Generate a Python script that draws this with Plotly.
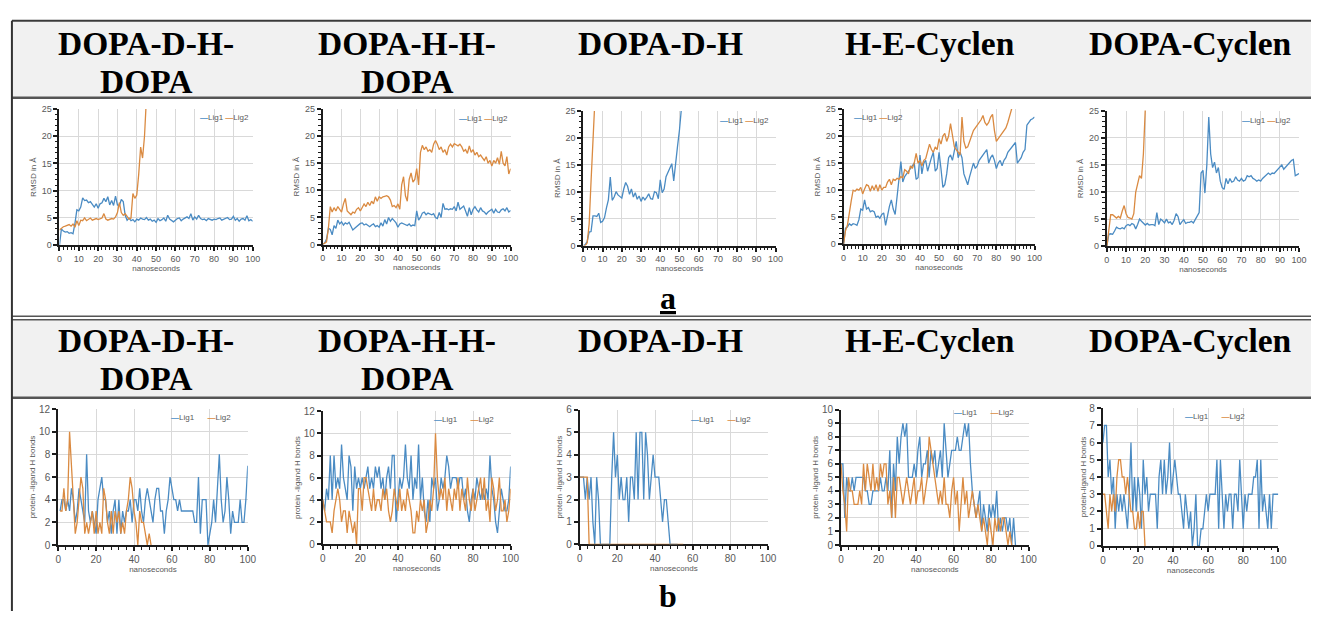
import plotly.graph_objects as go

W, H = 1320, 617

# ---------------- data ----------------
time_ns = list(range(0, 101))

compound_titles = [["DOPA-D-H-", "DOPA"], ["DOPA-H-H-", "DOPA"], ["DOPA-D-H"], ["H-E-Cyclen"], ["DOPA-Cyclen"]]
series_names = ["Lig1", "Lig2"]
rmsd_ytitle = "RMSD in Å"
hb_ytitles = ["protein -ligand H bonds", "protein -ligand H bonds", "protein -ligand H bonds",
              "protein -ligand H bonds", "protein-ligand H bonds"]
x_title = "nanoseconds"
panel_labels = ["a", "b"]

# ---- row a : RMSD (Å) ----
rmsd_dhd_lig1 = [0, 3.0, 2.6, 2.4, 2.5, 2.2, 2.3, 2.1, 4.0, 6.5, 6.3, 7.0, 8.7, 8.2, 8.3, 7.8, 8.0, 7.4, 7.0, 7.6,
                 6.8, 7.6, 7.8, 8.6, 8.0, 8.9, 7.4, 8.2, 7.3, 9.0, 7.4, 7.3, 8.4, 8.0, 5.5, 4.6, 5.0, 4.5, 4.7, 4.3,
                 4.8, 4.6, 5.0, 4.8, 4.7, 5.1, 4.6, 4.8, 4.4, 4.6, 4.2, 4.9, 4.5, 4.7, 5.0, 4.4, 5.5, 4.8, 4.5, 4.3,
                 4.6, 4.9, 5.0, 4.5, 4.8, 5.0, 5.2, 4.9, 5.8, 4.6, 5.2, 4.8, 5.5, 4.9, 4.7, 4.8, 4.5, 4.9, 4.7, 4.6,
                 4.8, 4.7, 4.9, 5.0, 4.6, 4.8, 4.9, 5.1, 4.7, 4.8, 5.3, 4.6, 4.9, 4.4, 4.8, 4.9, 4.6, 5.4, 4.5, 4.7, 4.4]
rmsd_dhd_lig2 = [2.8, 3.2, 3.4, 3.5, 3.6, 3.8, 3.5, 3.9, 3.3, 4.5, 3.6, 4.6, 4.5, 5.0, 4.5, 4.7, 5.0, 4.6, 4.8, 4.9,
                 4.7, 4.9, 5.0, 5.8, 4.8, 4.6, 4.7, 4.9, 4.8, 5.2, 6.0, 7.8, 6.0, 5.5, 5.8, 5.4, 4.8, 5.0, 9.5, 8.6,
                 9.2, 13.0, 18.0, 16.0, 20.0, 27.0]

rmsd_hhd_lig1 = [0, 0.3, 1.0, 3.0, 2.8, 1.8, 3.5, 3.0, 4.5, 3.8, 4.2, 3.6, 4.0, 3.8, 4.1, 3.5, 2.7, 3.0, 3.3, 3.6,
                 3.9, 4.0, 3.6, 3.8, 3.5, 3.3, 3.6, 3.8, 3.3, 3.5, 3.2, 4.0, 3.4, 4.6, 3.8, 5.0, 4.3, 4.8, 4.4, 4.0,
                 3.2, 3.8, 4.0, 3.8, 3.6, 3.5, 3.8, 3.4, 3.6, 3.5, 6.2, 4.5, 5.0, 5.8, 6.0, 5.5, 5.8, 5.6, 5.5, 5.7,
                 5.0, 4.8, 5.9, 5.0, 7.6, 6.5, 6.6, 6.4, 6.6, 6.5, 7.0, 6.2, 7.8, 6.5, 6.8, 7.1, 6.2, 5.2, 6.8, 5.5,
                 6.5, 7.0, 6.4, 6.0, 6.8, 6.2, 6.0, 5.6, 6.0, 6.3, 6.5, 5.8, 6.5, 6.0, 5.9, 6.4, 6.6, 6.2, 6.8, 6.0, 6.3]
rmsd_hhd_lig2 = [0, 0.2, 0.5, 3.0, 7.0, 6.0, 6.8, 6.2, 7.0, 6.5, 6.0, 7.5, 8.5, 6.2, 5.8, 5.5, 6.0, 5.8, 6.5, 6.8,
                 6.2, 7.0, 7.5, 7.0, 7.8, 7.2, 8.0, 7.5, 8.8, 8.0, 8.8, 8.5, 8.8, 8.9, 9.0, 8.8, 8.2, 7.0, 7.2, 6.8,
                 7.5, 6.5, 11.0, 12.5, 9.0, 8.0, 12.0, 13.2, 11.5, 12.0, 14.0, 11.0, 17.0, 18.3, 17.5, 18.0, 17.2,
                 17.5, 17.0, 18.5, 19.2, 18.5, 17.5, 18.0, 17.0, 17.5, 16.5, 18.0, 18.5, 18.0, 18.6, 18.4, 18.2, 18.5,
                 18.0, 17.2, 17.5, 16.8, 18.2, 17.0, 17.5, 16.5, 17.0, 16.2, 16.5, 16.0, 15.5, 16.2, 15.0, 15.5, 14.5,
                 15.5, 15.0, 16.0, 14.8, 17.2, 15.0, 14.5, 16.2, 13.0, 14.0]

rmsd_dh_lig1 = [0, 0.2, 0.8, 2.5, 2.6, 5.5, 5.5, 5.4, 6.0, 4.3, 4.5, 5.2, 7.0, 8.5, 12.7, 8.4, 9.0, 10.0, 9.4, 9.0,
                8.8, 10.5, 11.7, 11.0, 9.5, 10.5, 9.0, 9.8, 8.6, 9.2, 8.2, 9.0, 8.5, 9.0, 9.6, 8.7, 8.6, 10.0, 9.8,
                8.7, 12.2, 9.8, 10.5, 12.8, 13.5, 14.2, 15.2, 12.0, 16.0, 18.5, 21.5, 25.5]
rmsd_dh_lig2 = [0, 0, 0.5, 4.0, 12.0, 20.0, 27.0]

rmsd_hec_lig1 = [0, 3.0, 3.2, 3.8, 3.5, 3.8, 3.7, 3.5, 4.5, 6.5, 6.3, 8.2, 6.5, 6.8, 6.0, 6.2, 6.0, 5.0, 5.2, 4.8,
                 5.5, 5.8, 3.5, 5.5, 7.0, 8.2, 6.5, 5.5, 9.0, 12.0, 15.3, 11.5, 12.5, 13.0, 13.5, 14.0, 14.5, 15.0,
                 12.0, 12.3, 16.5, 13.0, 15.0, 15.5, 13.5, 15.0, 16.0, 17.0, 13.5, 14.0, 17.0, 14.0, 10.5, 11.0, 13.0,
                 16.0, 16.5, 15.5, 17.0, 19.0, 16.0, 17.0, 16.0, 13.0, 12.0, 11.0, 12.5, 14.0, 15.0, 14.0, 14.5, 15.5,
                 16.0, 16.5, 17.0, 17.5, 15.0, 16.0, 16.5, 15.5, 14.0, 15.0, 15.5, 14.5, 15.5, 16.0, 17.0, 17.5, 18.0,
                 18.5, 18.8, 15.0, 15.5, 16.0, 17.0, 17.5, 22.0, 22.5, 23.0, 23.2, 23.5]
rmsd_hec_lig2 = [0, 2.5, 3.5, 6.0, 8.0, 10.0, 9.8, 10.2, 10.0, 10.5, 9.3, 10.2, 11.0, 10.8, 9.8, 10.8, 10.0, 11.0,
                 9.8, 11.0, 10.0, 10.5, 10.5, 11.5, 12.0, 11.0, 12.0, 11.8, 12.2, 12.0, 12.5, 12.3, 13.8, 13.5, 13.0,
                 14.5, 14.0, 15.0, 16.8, 15.0, 15.5, 14.5, 15.5, 15.8, 17.0, 18.5, 17.5, 17.0, 18.0, 17.5, 19.5, 18.5,
                 20.0, 20.5, 19.0, 20.0, 22.3, 20.0, 18.0, 17.5, 17.0, 16.5, 23.5, 19.0, 17.8, 18.0, 19.0, 20.0, 21.0,
                 21.5, 22.0, 22.5, 23.0, 23.8, 22.5, 22.0, 22.5, 23.5, 24.0, 21.0, 19.0, 19.5, 20.0, 20.5, 21.0, 21.5,
                 22.5, 24.0, 25.0, 26.0]

rmsd_dc_lig1 = [0, 2.2, 2.3, 2.2, 2.8, 3.5, 3.3, 3.2, 3.4, 3.2, 3.8, 4.0, 3.8, 4.2, 4.0, 3.2, 4.0, 5.0, 4.6, 4.3,
                3.9, 4.2, 3.9, 4.0, 4.0, 3.8, 6.2, 4.0, 5.0, 4.7, 4.3, 5.0, 4.3, 4.5, 4.0, 4.8, 6.0, 5.5, 4.0, 4.5,
                4.9, 4.2, 4.4, 4.4, 4.6, 4.3, 5.0, 5.5, 6.2, 13.5, 14.0, 9.8, 15.0, 23.8, 17.0, 14.5, 15.5, 13.5, 14.5,
                12.0, 10.8, 10.5, 12.5, 11.5, 12.5, 11.8, 12.0, 12.8, 12.2, 12.0, 12.5, 12.0, 12.2, 13.0, 12.8, 13.0,
                12.5, 12.3, 12.0, 12.2, 12.0, 12.5, 12.8, 13.2, 13.5, 13.2, 13.5, 13.4, 13.8, 14.0, 14.5, 15.0, 14.2,
                14.6, 15.0, 15.5, 15.8, 16.0, 13.0, 13.2, 13.4]
rmsd_dc_lig2 = [0, 3.0, 5.8, 5.8, 5.4, 5.2, 5.5, 5.2, 6.5, 7.5, 6.0, 5.3, 5.2, 5.0, 6.0, 10.0, 11.5, 13.0, 12.5,
                17.0, 25.5]

# ---- row b : protein-ligand H bonds ----
hb_dhd_lig1 = [3, 4, 4, 3, 4, 3, 5, 4, 2, 3, 5, 4, 3, 2, 8, 3, 2, 3, 2, 1, 4, 5, 6, 4, 4, 2, 3, 1, 3, 4, 1, 4, 1,
               3, 2, 3, 3, 4, 2, 4, 4, 3, 5, 3, 2, 4, 5, 4, 3, 2, 4, 5, 5, 3, 3, 1, 3, 4, 6, 5, 4, 4, 3, 4, 3, 3,
               3, 3, 3, 3, 3, 2, 2, 6, 1, 4, 4, 4, 0, 1, 2, 4, 2, 5, 8, 4, 2, 3, 6, 4, 1, 3, 2, 2, 2, 4, 2, 2, 4, 7]
hb_dhd_lig2 = [3, 3, 5, 3, 4, 10, 7, 4, 1, 2, 4, 6, 5, 1, 2, 1, 2, 3, 1, 3, 1, 2, 1, 5, 4, 2, 1, 3, 1, 3, 2, 3, 1,
               2, 1, 3, 4, 6, 5, 3, 2, 0, 3, 2, 2, 1, 0, 1, 0]

hb_hhd_lig1 = [4, 3, 5, 4, 8, 4, 8, 5, 6, 5, 9, 6, 5, 4, 8, 7, 3, 7, 5, 6, 5, 6, 5, 6, 7, 5, 6, 5, 7, 6, 7, 5, 6,
               4, 6, 7, 5, 8, 8, 2, 4, 6, 5, 6, 9, 6, 5, 8, 4, 6, 5, 9, 4, 6, 3, 2, 4, 2, 6, 5, 6, 3, 4, 6, 5, 6,
               8, 7, 5, 6, 6, 6, 5, 6, 6, 4, 5, 3, 2, 4, 5, 4, 6, 5, 4, 5, 4, 5, 4, 8, 5, 4, 2, 1, 3, 5, 4, 3, 3, 4, 7]
hb_hhd_lig2 = [4, 3, 2, 2, 2, 1, 3, 4, 5, 4, 2, 3, 3, 1, 3, 2, 1, 2, 0, 5, 5, 3, 6, 6, 5, 4, 3, 5, 3, 4, 4, 3, 5,
               4, 5, 3, 2, 3, 5, 4, 3, 5, 3, 4, 3, 5, 4, 3, 1, 1, 3, 2, 4, 3, 4, 1, 2, 4, 3, 5, 10, 6, 4, 5, 4, 6,
               3, 5, 4, 3, 5, 4, 6, 3, 5, 4, 3, 6, 4, 3, 5, 3, 4, 5, 6, 4, 6, 3, 4, 2, 6, 5, 3, 4, 6, 3, 3, 4, 2, 3, 5]

hb_dh_lig1 = [3, 3, 3, 2, 3, 2, 3, 1, 0, 3, 2, 0, 0, 0, 0, 0, 0, 3, 5, 3, 4, 2, 3, 2, 2, 3, 1, 3, 3, 2, 5, 2, 5,
              5, 2, 5, 4, 2, 3, 4, 3, 3, 3, 2, 1, 2, 2, 1, 0, 0, 0, 0, 0]
hb_dh_lig2 = [3, 3, 3, 3, 3, 0, 0, 0, 0, 0, 0, 0, 0, 0, 0, 0, 0, 0, 0, 0, 0, 0, 0, 0, 0, 0, 0, 0, 0, 0, 0, 0, 0,
              0, 0, 0, 0, 0, 0, 0, 0, 0, 0, 0, 0, 0, 0, 0, 0, 0, 0, 0, 0, 0, 0, 0]

hb_hec_lig1 = [6, 6, 2, 5, 4, 4, 5, 4, 5, 5, 5, 5, 5, 4, 4, 3, 3, 4, 4, 4, 4, 5, 4, 4, 5, 4, 7, 2, 6, 4, 8, 6, 8,
               9, 8, 9, 5, 5, 5, 6, 5, 7, 8, 5, 6, 6, 7, 5, 7, 6, 7, 5, 6, 7, 5, 9, 7, 5, 6, 7, 7, 7, 8, 7, 7, 8,
               9, 8, 9, 6, 4, 3, 2, 3, 4, 1, 3, 2, 1, 3, 2, 3, 2, 4, 1, 2, 1, 2, 2, 1, 2, 0, 2, 0]
hb_hec_lig2 = [6, 4, 3, 1, 5, 4, 4, 3, 3, 3, 4, 3, 6, 4, 6, 5, 4, 6, 4, 5, 4, 6, 5, 6, 6, 3, 4, 2, 5, 2, 5, 5, 4,
               3, 4, 5, 4, 3, 4, 5, 3, 4, 4, 5, 3, 4, 5, 8, 7, 6, 5, 4, 3, 4, 3, 5, 3, 3, 2, 4, 5, 3, 4, 1, 3, 5,
               3, 4, 2, 3, 4, 3, 2, 3, 2, 1, 2, 1, 0, 2, 1, 0, 2, 1, 2, 1, 2, 2, 1, 0, 1, 0]

hb_dc_lig1 = [6, 7, 7, 4, 5, 3, 4, 1, 3, 2, 3, 2, 3, 2, 1, 3, 6, 2, 4, 2, 4, 3, 1, 5, 3, 4, 2, 3, 3, 3, 3, 1, 4,
              5, 3, 5, 3, 4, 6, 3, 4, 5, 4, 3, 3, 2, 1, 3, 2, 1, 2, 0, 1, 3, 0, 0, 1, 1, 2, 3, 2, 3, 3, 3, 3, 5,
              1, 5, 3, 1, 3, 2, 3, 3, 1, 3, 3, 2, 5, 3, 1, 3, 2, 3, 3, 3, 4, 4, 5, 1, 5, 2, 3, 2, 1, 3, 1, 3, 3, 3, 3]
hb_dc_lig2 = [3, 3, 2, 1, 3, 2, 3, 2, 4, 5, 5, 4, 4, 3, 4, 3, 2, 2, 1, 1, 2, 1, 2, 2, 0]

rmsd_series = [(rmsd_dhd_lig1, rmsd_dhd_lig2), (rmsd_hhd_lig1, rmsd_hhd_lig2), (rmsd_dh_lig1, rmsd_dh_lig2),
               (rmsd_hec_lig1, rmsd_hec_lig2), (rmsd_dc_lig1, rmsd_dc_lig2)]
hb_series = [(hb_dhd_lig1, hb_dhd_lig2), (hb_hhd_lig1, hb_hhd_lig2), (hb_dh_lig1, hb_dh_lig2),
             (hb_hec_lig1, hb_hec_lig2), (hb_dc_lig1, hb_dc_lig2)]
hb_start = [(1, 1), (0, 0), (0, 0), (0, 0), (0, 0)]
rmsd_max = [25, 25, 25, 25, 25]
hb_max = [12, 12, 6, 10, 8]
hb_step = [2, 2, 1, 1, 1]

# ---------------- style / layout constants ----------------
C1, C2 = "#4a8bc3", "#da8a41"
AXC = "#1c1c1c"
GRIDC = "#d9d9d9"
TXTC = "#595959"
SANS = "Liberation Sans, Arial, sans-serif"
SERIF = "Liberation Serif, Times New Roman, Times, DejaVu Serif, serif"

A_BOX = [(57, 252, 105, 244), (322.7, 512.3, 105, 243.3), (585.7, 779.7, 107, 244.3),
         (848.3, 1041, 105, 243), (1114, 1308, 106.7, 245)]
B_BOX = [(55.7, 247, 411, 549.7), (322.7, 512.3, 413.3, 548.7), (582, 772, 412, 549),
         (845.7, 1035, 411.7, 549.7), (1110, 1287, 410, 550.7)]
A_LEG = [(250, "right", 114), (512, "right", 115), (775, "right", 117), (857, "left", 114), (1302, "right", 117)]
B_LEG = [(232, "right", 420), (498, "right", 422), (757, "right", 422), (1022, "right", 415), (1255, "right", 419)]
TITLE_X = [144, 408, 664, 935, 1198]
TITLE_Y = [(38.5, 76.5), (341.5, 379.5)]


def fx(v):
    return v / W


def fy(v):
    return 1 - v / H


fig = go.Figure()
layout = dict(width=W, height=H, autosize=False, margin=dict(l=0, r=0, t=0, b=0),
              paper_bgcolor="white", plot_bgcolor="white", showlegend=False,
              annotations=[], shapes=[])

# ---- frame and header bands ----
shp = layout["shapes"]
for (y0, y1) in [(16, 92.5), (320.5, 398.5)]:
    shp.append(dict(type="rect", xref="paper", yref="paper", x0=fx(9), x1=1, y0=fy(y1), y1=fy(y0),
                    fillcolor="#f1f1f1", line=dict(width=0), layer="below"))
for (yy, wd, col) in [(15, 2, "#3a3a3a"), (93.5, 2.5, "#555555"), (316.5, 1.5, "#555555"),
                      (320, 1.5, "#555555"), (399.5, 2.5, "#555555")]:
    shp.append(dict(type="line", xref="paper", yref="paper", x0=fx(9), x1=1, y0=fy(yy), y1=fy(yy),
                    line=dict(color=col, width=wd)))
shp.append(dict(type="line", xref="paper", yref="paper", x0=fx(9), x1=fx(9), y0=fy(15), y1=0,
                line=dict(color="#333333", width=2)))

ann = layout["annotations"]

# ---- header titles ----
for c, lines in enumerate(compound_titles):
    for (ys1, ys2) in TITLE_Y:
        for li, t in enumerate(lines):
            ann.append(dict(text="<b>%s</b>" % t, x=fx(TITLE_X[c]), y=fy(ys1 if li == 0 else ys2),
                            xref="paper", yref="paper", xanchor="center", yanchor="middle", showarrow=False,
                            font=dict(family=SERIF, size=33.5, color="black")))

# ---- panel labels ----
for lab, yy in zip(panel_labels, [298, 602]):
    ann.append(dict(text="<b><u>%s</u></b>" % lab if lab == "a" else "<b>%s</b>" % lab,
                    x=fx(671), y=fy(yy), xref="paper", yref="paper",
                    xanchor="center", yanchor="middle", showarrow=False,
                    font=dict(family=SERIF, size=32, color="black")))


def legend_text(gap):
    return ('<span style="color:%s"><b>—</b></span>%s%s<span style="color:%s"><b>—</b></span>%s'
            % (C1, series_names[0], "&nbsp;" * gap, C2, series_names[1]))


k = 0
for row in range(2):
    for c in range(5):
        k += 1
        sx = "" if k == 1 else str(k)
        xa, ya = "x" + sx, "y" + sx
        if row == 0:
            l, r, t, b = A_BOX[c]
            v1, v2 = rmsd_series[c]
            s1, s2 = 0, 0
            ymax, ystep, yminor = rmsd_max[c], 5, 1
            xstep, xminor = 10, 2
            ytitle = rmsd_ytitle
            lx, lanchor, ly = A_LEG[c]
            gap = 1
            tsize = 9
        else:
            l, r, t, b = B_BOX[c]
            v1, v2 = hb_series[c]
            s1, s2 = hb_start[c]
            ymax, ystep, yminor = hb_max[c], hb_step[c], None
            xstep, xminor = 20, 4
            ytitle = hb_ytitles[c]
            lx, lanchor, ly = B_LEG[c]
            gap = 6
            tsize = 10
        for vals, st, name, col in [(v1, s1, series_names[0], C1), (v2, s2, series_names[1], C2)]:
            fig.add_trace(go.Scatter(x=time_ns[st:st + len(vals)], y=vals, mode="lines", name=name,
                                     line=dict(color=col, width=1.3), xaxis=xa, yaxis=ya,
                                     showlegend=False, hoverinfo="x+y+name"))
        xaxis = dict(domain=[fx(l), fx(r)], range=[0, 100], anchor=ya, dtick=xstep, tick0=0,
                     showgrid=True, gridcolor=GRIDC, gridwidth=1, zeroline=False,
                     showline=True, linecolor=AXC, linewidth=2, layer="below traces",
                     ticks="outside", ticklen=4, tickwidth=1.5, tickcolor=AXC,
                     minor=dict(dtick=xminor, tick0=0, ticks="outside", ticklen=2.5, tickwidth=1.2,
                                tickcolor=AXC, showgrid=False),
                     tickfont=dict(family=SANS, size=tsize, color=TXTC),
                     title=dict(text=x_title, standoff=1 if row == 0 else 0,
                                font=dict(family=SANS, size=8, color=TXTC)),
                     fixedrange=True)
        yaxis = dict(domain=[fy(b), fy(t)], range=[0, ymax], anchor=xa, dtick=ystep, tick0=0,
                     showgrid=True, gridcolor=GRIDC, gridwidth=1, zeroline=False,
                     showline=True, linecolor=AXC, linewidth=2, layer="below traces",
                     ticks="outside", ticklen=4, tickwidth=1.5, tickcolor=AXC,
                     tickfont=dict(family=SANS, size=tsize, color=TXTC),
                     title=dict(text=ytitle, standoff=4 if row == 0 else 2,
                                font=dict(family=SANS, size=8, color=TXTC)),
                     fixedrange=True)
        if yminor:
            yaxis["minor"] = dict(dtick=yminor, tick0=0, ticks="outside", ticklen=2.5, tickwidth=1.2,
                                  tickcolor=AXC, showgrid=False)
        layout["xaxis" + sx] = xaxis
        layout["yaxis" + sx] = yaxis
        ann.append(dict(text=legend_text(gap), x=fx(lx), y=fy(ly), xref="paper", yref="paper",
                        xanchor=lanchor, yanchor="middle", showarrow=False,
                        font=dict(family=SANS, size=8, color=TXTC)))

fig.update_layout(**layout)
fig.write_html("out.html", config={"displayModeBar": False},
               post_script="document.body.style.margin='0px';document.body.style.overflow='hidden';")
